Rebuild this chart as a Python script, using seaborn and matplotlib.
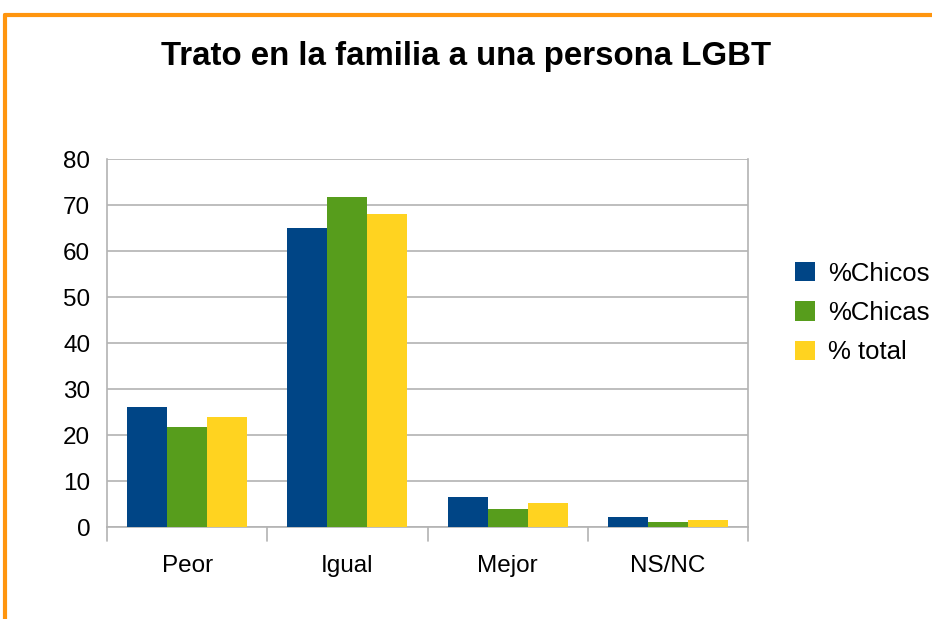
import matplotlib
matplotlib.use("Agg")
import matplotlib.pyplot as plt
import seaborn as sns
import pandas as pd
from matplotlib.lines import Line2D
from matplotlib.patches import Patch

categories = ["Peor", "Igual", "Mejor", "NS/NC"]
series = ["%Chicos", "%Chicas", "% total"]
chicos = [26.1, 65.0, 6.6, 2.2]
chicas = [21.7, 71.7, 3.9, 1.1]
total = [23.9, 68.1, 5.2, 1.5]
colors = ["#004586", "#579d1c", "#ffd320"]
yticks = [0, 10, 20, 30, 40, 50, 60, 70, 80]

rows = []
for name, vals in zip(series, [chicos, chicas, total]):
    for c, v in zip(categories, vals):
        rows.append({"cat": c, "serie": name, "val": v})
df = pd.DataFrame(rows)

sns.set_style("white")
plt.rcParams["font.family"] = ["Liberation Sans", "DejaVu Sans"]
plt.rcParams["text.color"] = "black"
plt.rcParams["xtick.color"] = "black"
plt.rcParams["ytick.color"] = "black"
plt.rcParams["xtick.labelcolor"] = "black"
plt.rcParams["ytick.labelcolor"] = "black"

fig = plt.figure(figsize=(9.32, 6.19), dpi=100)
ax = fig.add_axes([107/932, 1-527/619, (748-107)/932, (527-159)/619])

sns.barplot(data=df, x="cat", y="val", hue="serie", order=categories,
            hue_order=series, palette=colors, width=0.75, saturation=1,
            ax=ax, legend=False, zorder=3, linewidth=0)

ax.set_ylim(0, 80)
ax.set_xlim(-0.5, 3.5)
ax.set_yticks(yticks)
ax.set_yticklabels([str(t) for t in yticks], fontsize=17.5, color="black")
ax.set_xticks([0, 1, 2, 3])
ax.set_xticklabels(categories, fontsize=17.5, color="black")
ax.tick_params(axis="x", length=0, pad=20)
ax.tick_params(axis="y", length=8, color="#b3b3b3", width=1.2, pad=4)
ax.set_xlabel("")
ax.set_ylabel("")
ax.yaxis.grid(True, color="#b3b3b3", linewidth=1.2, zorder=0)
ax.set_axisbelow(True)
ax.spines["top"].set_visible(False)
for s in ["left", "bottom", "right"]:
    ax.spines[s].set_visible(True)
    ax.spines[s].set_color("#b3b3b3")
    ax.spines[s].set_linewidth(1.2)

# category separator ticks below axis
for xb in [-0.5, 0.5, 1.5, 2.5, 3.5]:
    ax.plot([xb, xb], [0, -3], color="#b3b3b3", linewidth=1.2, clip_on=False, zorder=2)

fig.text(466/932, 1-57/619, "Trato en la familia a una persona LGBT",
         ha="center", va="center", fontsize=23.8, fontweight="bold", color="black")

handles = [Patch(facecolor=c, edgecolor="none") for c in colors]
leg = fig.legend(handles, series, loc="center left", bbox_to_anchor=(772/932, 1-313/619),
                 frameon=False, fontsize=18.5, handlelength=0.78, handleheight=0.78,
                 handletextpad=0.5, labelspacing=0.6)
for t in leg.get_texts():
    t.set_color("black")

# orange frame (top and left)
fig.add_artist(Line2D([5/932, 1], [1-15/619, 1-15/619], color="#ff950e", linewidth=3,
                      transform=fig.transFigure))
fig.add_artist(Line2D([5/932, 5/932], [0, 1-15/619], color="#ff950e", linewidth=3,
                      transform=fig.transFigure))

fig.savefig("out.png", dpi=100)
